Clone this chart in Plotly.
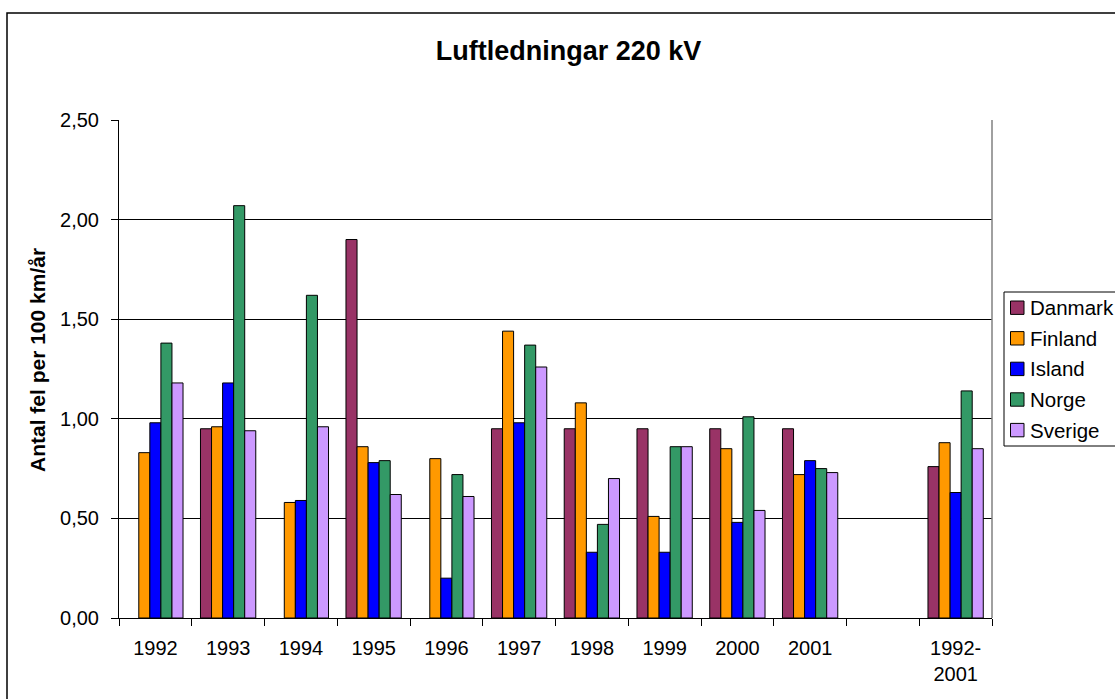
import plotly.graph_objects as go

categories = ["1992", "1993", "1994", "1995", "1996", "1997", "1998", "1999", "2000", "2001", " ", "1992-<br>2001"]
danmark = [None, 0.95, None, 1.90, None, 0.95, 0.95, 0.95, 0.95, 0.95, None, 0.76]
finland = [0.83, 0.96, 0.58, 0.86, 0.80, 1.44, 1.08, 0.51, 0.85, 0.72, None, 0.88]
island = [0.98, 1.18, 0.59, 0.78, 0.20, 0.98, 0.33, 0.33, 0.48, 0.79, None, 0.63]
norge = [1.38, 2.07, 1.62, 0.79, 0.72, 1.37, 0.47, 0.86, 1.01, 0.75, None, 1.14]
sverige = [1.18, 0.94, 0.96, 0.62, 0.61, 1.26, 0.70, 0.86, 0.54, 0.73, None, 0.85]

series_names = ["Danmark", "Finland", "Island", "Norge", "Sverige"]
series_values = [danmark, finland, island, norge, sverige]
series_colors = ["#993366", "#FF9900", "#0000FF", "#339966", "#CC99FF"]

FONT = "Arial, Liberation Sans, sans-serif"
W, H = 1115, 699
L, R, T, B = 119, 123, 120, 81
PW, PH = W - L - R, H - T - B


def px(x):
    return (x - L) / PW


def py(y):
    return (H - B - y) / PH


fig = go.Figure()
for name, vals, col in zip(series_names, series_values, series_colors):
    fig.add_trace(go.Bar(
        x=categories, y=vals, name=name, showlegend=False,
        marker=dict(color=col, line=dict(color="black", width=1)),
    ))

fig.update_layout(
    width=W, height=H,
    margin=dict(l=L, r=R, t=T, b=B, autoexpand=False),
    paper_bgcolor="white", plot_bgcolor="white",
    barmode="group", bargap=0.24, bargroupgap=0,
    separators=",.",
    font=dict(family=FONT, size=20, color="black"),
    title=dict(text="<b>Luftledningar 220 kV</b>", xref="container", yref="container",
               x=568.5 / W, y=1 - 51 / H, xanchor="center", yanchor="middle",
               font=dict(family=FONT, size=27, color="black")),
    showlegend=False,
)

fig.update_xaxes(
    type="category", categoryorder="array", categoryarray=categories,
    showline=True, linecolor="black", linewidth=1,
    ticks="outside", tickson="boundaries", ticklen=7, tickcolor="black",
    ticklabelstandoff=12,
    showgrid=False, tickfont=dict(family=FONT, size=20, color="black"),
)
fig.update_yaxes(
    range=[0, 2.5], tickvals=[0, 0.5, 1.0, 1.5, 2.0, 2.5], tickformat=".2f",
    showline=True, linecolor="black", linewidth=1,
    ticks="outside", ticklen=7, tickcolor="black", ticklabelstandoff=8,
    showgrid=True, gridcolor="black", gridwidth=1,
    zeroline=False,
    tickfont=dict(family=FONT, size=20, color="black"),
)

# right border of plot area (grey line)
fig.add_shape(type="line", xref="paper", yref="paper", x0=1, x1=1, y0=0, y1=1,
              line=dict(color="#808080", width=1.5))

fig.add_annotation(
    text="<b>Antal fel per 100 km/år</b>", xref="paper", yref="paper",
    x=px(37), y=py(360), textangle=-90, showarrow=False,
    font=dict(family=FONT, size=21, color="black"), xanchor="center", yanchor="middle",
)

# outer chart border
fig.add_shape(type="rect", xref="paper", yref="paper",
              x0=px(7), x1=px(1200), y0=py(760), y1=py(13),
              line=dict(color="black", width=1.5), layer="below")

# legend (drawn manually so it can run past the right edge like the reference)
fig.add_shape(type="rect", xref="paper", yref="paper",
              x0=px(1004), x1=px(1200), y0=py(446), y1=py(292),
              line=dict(color="black", width=1), fillcolor="white", layer="above")
for i, (name, col) in enumerate(zip(series_names, series_colors)):
    cy = 307.7 + i * 30.6
    fig.add_shape(type="rect", xref="paper", yref="paper",
                  x0=px(1010.5), x1=px(1024), y0=py(cy + 6.7), y1=py(cy - 6.7),
                  line=dict(color="black", width=1), fillcolor=col, layer="above")
    fig.add_annotation(text=name, xref="paper", yref="paper", x=px(1028), y=py(cy),
                       xanchor="left", yanchor="middle", showarrow=False,
                       font=dict(family=FONT, size=20.5, color="black"))

fig.write_html("out.html", config={"displayModeBar": False},
               post_script="document.body.style.margin='0px';document.body.style.overflow='hidden';")
